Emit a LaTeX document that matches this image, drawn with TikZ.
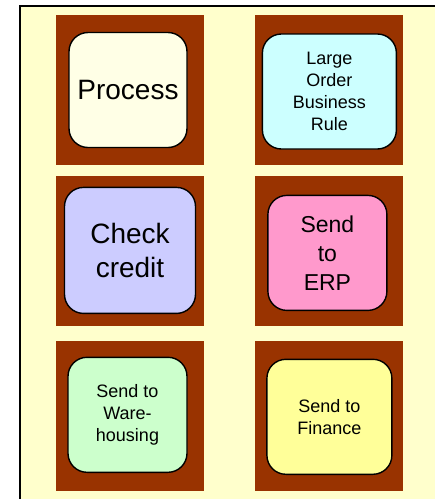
\documentclass[tikz,border=0pt]{standalone}
\usepackage{fontspec}
\setmainfont{Liberation Sans}
\usetikzlibrary{positioning}

\definecolor{pagebg}{HTML}{FFFFCC}
\definecolor{tilebrown}{HTML}{993300}
\definecolor{procfill}{HTML}{FFFFE6}
\definecolor{rulefill}{HTML}{CCFFFF}
\definecolor{creditfill}{HTML}{CCCCFF}
\definecolor{erpfill}{HTML}{FF99CC}
\definecolor{warefill}{HTML}{CCFFCC}
\definecolor{finfill}{HTML}{FFFF99}

\tikzset{
    tile/.style={fill=tilebrown, draw=none, minimum width=148pt, minimum height=150pt, inner sep=0pt},
    task/.style={draw=black, line width=1.4pt, rounded corners=19pt, align=center, inner sep=0pt,
        minimum height=115pt, text=black},
    bigtext/.style={font=\fontsize{28}{34.7}\selectfont},
    midtext/.style={font=\fontsize{23}{29}\selectfont},
    smalltext/.style={font=\fontsize{18}{22}\selectfont},
}

\begin{document}
\begin{tikzpicture}[x=1pt, y=-1pt]
    \useasboundingbox (0,0) rectangle (435,499);
    \clip (0,0) rectangle (435,499);
    \draw[line width=2pt, fill=pagebg] (20,5.5) rectangle (445,510);

    % brown tiles
    \node[tile] (T1) at (130,90) {};
    \node[tile, right=51pt of T1] (T2) {};
    \node[tile, below=11pt of T1] (T3) {};
    \node[tile, right=51pt of T3] (T4) {};
    \node[tile, below=14pt of T3] (T5) {};
    \node[tile, right=51pt of T5] (T6) {};

    % rounded steps
    \node[task, bigtext, fill=procfill, minimum width=118pt] (Process) at ([xshift=-2pt]T1) {Process};
    \node[task, smalltext, fill=rulefill, minimum width=134pt] (LargeOrder) at ([yshift=-1.5pt]T2) {Large\\Order\\Business\\Rule};
    \node[task, bigtext, fill=creditfill, minimum width=131pt, minimum height=126pt] (CheckCredit) at ([yshift=1pt]T3) {Check\\credit};
    \node[task, midtext, fill=erpfill, minimum width=119pt] (SendERP) at ([xshift=-2pt, yshift=-1.5pt]T4) {Send\\to\\ERP};
    \node[task, smalltext, fill=warefill, minimum width=119pt] (SendWare) at ([xshift=-2.5pt, yshift=1pt]T5) {Send to\\Ware-\\housing};
    \node[task, smalltext, fill=finfill, minimum width=125pt] (SendFinance) at ([yshift=-1pt]T6) {Send to\\Finance};
\end{tikzpicture}
\end{document}
